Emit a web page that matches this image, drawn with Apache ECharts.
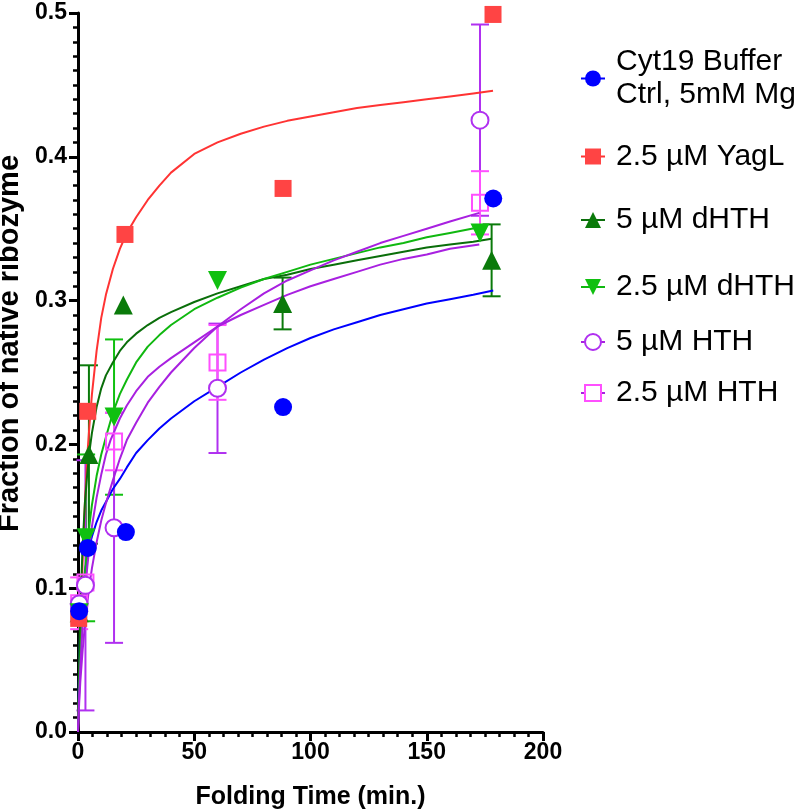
<!DOCTYPE html>
<html>
<head>
<meta charset="utf-8">
<script src="https://cdn.jsdelivr.net/npm/echarts@6/dist/echarts.min.js"></script>
<style>html,body{margin:0;padding:0;background:#fff}#c{width:800px;height:811px}</style>
</head>
<body>
<div id="c"></div>
<script>
// ---- Data ----
const seriesNames = ['Cyt19 Buffer\nCtrl, 5mM Mg', '2.5 µM YagL', '5 µM dHTH', '2.5 µM dHTH', '5 µM HTH', '2.5 µM HTH'];
const xTicks = [0, 50, 100, 150, 200];
const yTicks = [0.0, 0.1, 0.2, 0.3, 0.4, 0.5];

// measured points (x = folding time in min, y = fraction native)
const blueX = [0.5, 4.2, 20.6, 88.2, 178.6];
const blueY = [0.084, 0.128, 0.139, 0.226, 0.371];
const redX = [0.3, 4.2, 20.2, 88.2, 178.5];
const redY = [0.079, 0.223, 0.346, 0.378, 0.499];
const dgX = [0.5, 4.7, 19.5, 88.0, 177.9];
const dgY = [0.083, 0.193, 0.297, 0.298, 0.328];
const dgErr = [0, 0.062, 0, 0.018, 0.025];
const lgX = [0.5, 3.5, 15.5, 60.0, 172.9];
const lgY = [0.083, 0.135, 0.219, 0.314, 0.347];
const lgErr = [0, 0.058, 0.054, 0, 0];
const puX = [0.5, 3.2, 15.5, 60.0, 172.9];
const puY = [0.089, 0.102, 0.142, 0.239, 0.4255];
const puErr = [0, 0.087, 0.080, 0.045, 0.0665];
const pkX = [0.5, 3.2, 15.5, 60.0, 172.9];
const pkY = [0.0895, 0.104, 0.202, 0.257, 0.368];
const pkErr = [0.018, 0, 0.020, 0.026, 0.022];

// fitted curves
const blueFitX = [0, 0.5, 1, 2, 3, 4, 5, 6, 8, 10, 12, 15, 18, 21, 25, 30, 35, 40, 50, 60, 70, 80, 90, 100, 110, 120, 130, 140, 150, 160, 170, 178.6];
const blueFitY = [0, 0.05, 0.075, 0.098, 0.112, 0.122, 0.13, 0.136, 0.146, 0.154, 0.16, 0.169, 0.176, 0.184, 0.194, 0.203, 0.211, 0.218, 0.23, 0.24, 0.25, 0.259, 0.267, 0.274, 0.28, 0.285, 0.29, 0.294, 0.298, 0.301, 0.304, 0.307];
const redFitX = [0, 0.5, 1, 2, 3, 4, 5, 6, 8, 10, 12, 15, 18, 21, 25, 30, 35, 40, 50, 60, 70, 80, 90, 100, 110, 120, 130, 140, 150, 160, 170, 178.5];
const redFitY = [0, 0.03, 0.06, 0.12, 0.16, 0.192, 0.215, 0.235, 0.265, 0.288, 0.304, 0.322, 0.336, 0.347, 0.358, 0.37, 0.38, 0.389, 0.402, 0.41, 0.416, 0.421, 0.425, 0.428, 0.431, 0.434, 0.436, 0.438, 0.44, 0.442, 0.444, 0.446];
const dgFitX = [0, 0.5, 1, 2, 3, 4, 5, 6, 8, 10, 12, 15, 18, 21, 25, 30, 35, 40, 50, 60, 70, 80, 90, 100, 110, 120, 130, 140, 150, 160, 170, 177.9];
const dgFitY = [0, 0.05, 0.085, 0.13, 0.16, 0.18, 0.196, 0.208, 0.226, 0.239, 0.248, 0.257, 0.265, 0.271, 0.277, 0.283, 0.288, 0.292, 0.299, 0.305, 0.31, 0.315, 0.318, 0.322, 0.325, 0.328, 0.331, 0.334, 0.337, 0.339, 0.341, 0.343];
const lgFitX = [0, 0.5, 1, 2, 3, 4, 5, 6, 8, 10, 12, 15, 18, 21, 25, 30, 35, 40, 50, 60, 70, 80, 90, 100, 110, 120, 130, 140, 150, 160, 172.6];
const lgFitY = [0, 0.03, 0.05, 0.085, 0.11, 0.13, 0.145, 0.158, 0.178, 0.193, 0.205, 0.222, 0.235, 0.245, 0.257, 0.268, 0.276, 0.283, 0.294, 0.302, 0.309, 0.315, 0.32, 0.325, 0.329, 0.333, 0.337, 0.34, 0.344, 0.347, 0.351];
const puFitX = [0, 0.5, 1, 2, 3, 4, 5, 6, 8, 10, 12, 15, 18, 21, 25, 30, 35, 40, 50, 60, 70, 80, 90, 100, 110, 120, 130, 140, 150, 160, 172.6];
const puFitY = [0, 0.02, 0.035, 0.057, 0.075, 0.09, 0.103, 0.114, 0.132, 0.147, 0.159, 0.175, 0.19, 0.203, 0.215, 0.229, 0.24, 0.25, 0.267, 0.282, 0.294, 0.305, 0.314, 0.321, 0.328, 0.334, 0.34, 0.345, 0.35, 0.355, 0.361];
const pkFitX = [0, 0.5, 1, 2, 3, 4, 5, 6, 8, 10, 12, 14, 18, 21, 25, 30, 35, 40, 50, 60, 70, 80, 90, 100, 110, 120, 130, 140, 150, 160, 172.6];
const pkFitY = [0, 0.025, 0.045, 0.075, 0.097, 0.115, 0.13, 0.143, 0.163, 0.179, 0.193, 0.203, 0.218, 0.227, 0.237, 0.247, 0.254, 0.26, 0.271, 0.282, 0.29, 0.297, 0.304, 0.31, 0.315, 0.32, 0.325, 0.329, 0.332, 0.336, 0.339];

// ---- Styling ----
const styles = [
  {mark: '#0000ff', line: '#0000ff', symbol: 'circle', size: 18, rot: 0, hollow: false, fill: '#0000ff', err: '#0000ff'},
  {mark: '#ff4444', line: '#ff3333', symbol: 'rect', size: 17, rot: 0, hollow: false, fill: '#ff4444', err: '#ff4444'},
  {mark: '#0a7a0a', line: '#0a6e0a', symbol: 'triangle', size: 19, rot: 0, hollow: false, fill: '#0a7a0a', err: '#0a7a0a'},
  {mark: '#10c010', line: '#10b810', symbol: 'triangle', size: 19, rot: 180, hollow: false, fill: '#10c010', err: '#10c010'},
  {mark: '#b030f0', line: '#a820e0', symbol: 'circle', size: 17, rot: 0, hollow: true, fill: '#ffffff', err: '#b030f0'},
  {mark: '#ff50ff', line: '#a820e0', symbol: 'rect', size: 16, rot: 0, hollow: true, fill: 'rgba(0,0,0,0)', err: '#ff50ff'}
];
const pts = [[blueX, blueY, null], [redX, redY, null], [dgX, dgY, dgErr], [lgX, lgY, lgErr], [puX, puY, puErr], [pkX, pkY, pkErr]];
const fits = [[blueFitX, blueFitY], [redFitX, redFitY], [dgFitX, dgFitY], [lgFitX, lgFitY], [puFitX, puFitY], [pkFitX, pkFitY]];
const legendCenters = [78.5, 156.5, 220, 287, 342, 393];

function zip(a, b) { return a.map((v, i) => [v, b[i]]); }

function errRender(color) {
  return function (params, api) {
    const x = api.value(0), lo = api.value(1), hi = api.value(2);
    const p1 = api.coord([x, lo]), p2 = api.coord([x, hi]);
    const w = 9;
    const st = {stroke: color, lineWidth: 2};
    return {type: 'group', children: [
      {type: 'line', shape: {x1: p1[0], y1: p1[1], x2: p2[0], y2: p2[1]}, style: st},
      {type: 'line', shape: {x1: p1[0] - w, y1: p1[1], x2: p1[0] + w, y2: p1[1]}, style: st},
      {type: 'line', shape: {x1: p2[0] - w, y1: p2[1], x2: p2[0] + w, y2: p2[1]}, style: st}
    ]};
  };
}

const series = [];
// fit lines first (legend takes its icon from them)
fits.forEach((f, i) => {
  const s = styles[i];
  series.push({
    type: 'line', name: seriesNames[i], data: zip(f[0], f[1]),
    smooth: false, showSymbol: false,
    symbol: s.hollow ? (s.symbol === 'circle' ? 'emptyCircle' : 'emptyRect') : s.symbol,
    symbolRotate: s.rot, symbolSize: s.size,
    itemStyle: {color: s.mark},
    lineStyle: {color: s.line, width: 2, join: 'round'}, z: 2, silent: true, animation: false
  });
});
// error bars
pts.forEach((p, i) => {
  if (!p[2]) return;
  const data = [];
  p[0].forEach((x, k) => { if (p[2][k] > 0) data.push([x, p[1][k] - p[2][k], p[1][k] + p[2][k]]); });
  series.push({type: 'custom', name: seriesNames[i], data: data, renderItem: errRender(styles[i].err),
    encode: {x: 0, y: [1, 2]}, z: 1, clip: false, silent: true, animation: false});
});
// markers
pts.forEach((p, i) => {
  const s = styles[i];
  series.push({
    type: 'scatter', name: seriesNames[i], data: zip(p[0], p[1]),
    symbol: s.symbol, symbolRotate: s.rot, symbolSize: s.size,
    itemStyle: s.hollow ? {color: s.fill, borderColor: s.mark, borderWidth: 2, opacity: 1} : {color: s.mark, opacity: 1},
    z: 10 - i, silent: true, animation: false
  });
});

const legends = seriesNames.map((n, i) => {
  const two = n.indexOf('\n') >= 0;
  const lh = 33;
  const h = two ? lh * 2 : lh;
  return {
    data: [n], left: 580, top: legendCenters[i] - h / 2, orient: 'vertical', padding: 0,
    itemWidth: 24, itemHeight: 20, selectedMode: false,
    textStyle: {fontFamily: 'Liberation Sans', fontSize: 30, color: '#000', lineHeight: lh, padding: [0, 0, 0, 6]}
  };
});

const tickFont = {fontFamily: 'Liberation Sans', fontWeight: 'bold', fontSize: 23, color: '#000'};
const chart = echarts.init(document.getElementById('c'), null, {renderer: 'canvas'});
chart.setOption({
  animation: false,
  backgroundColor: '#fff',
  grid: {left: 78, right: 257, top: 13, bottom: 79, containLabel: false, outerBoundsMode: 'none'},
  legend: legends,
  xAxis: {
    type: 'value', min: xTicks[0], max: xTicks[xTicks.length - 1], interval: 50,
    name: 'Folding Time (min.)', nameLocation: 'middle', nameGap: 53,
    nameTextStyle: {fontFamily: 'Liberation Sans', fontWeight: 'bold', fontSize: 25, color: '#000'},
    axisLine: {show: true, lineStyle: {color: '#000', width: 3}},
    axisTick: {show: true, length: 9, lineStyle: {color: '#000', width: 3}},
    minorTick: {show: true, splitNumber: 8, length: 5, lineStyle: {color: '#000', width: 2.5}},
    axisLabel: Object.assign({margin: 9, formatter: v => String(v)}, tickFont),
    splitLine: {show: false}
  },
  yAxis: {
    type: 'value', min: yTicks[0], max: yTicks[yTicks.length - 1], interval: 0.1,
    name: 'Fraction of native ribozyme', nameLocation: 'middle', nameGap: 34,
    nameTextStyle: {fontFamily: 'Liberation Sans', fontWeight: 'bold', fontSize: 29, color: '#000', padding: [0, 0, 0, 58]},
    axisLine: {show: true, lineStyle: {color: '#000', width: 3}},
    axisTick: {show: true, length: 9, lineStyle: {color: '#000', width: 3}},
    minorTick: {show: true, splitNumber: 10, length: 5, lineStyle: {color: '#000', width: 2.5}},
    axisLabel: Object.assign({margin: 11, formatter: v => v.toFixed(1)}, tickFont),
    splitLine: {show: false}
  },
  series: series
});
</script>
</body>
</html>
